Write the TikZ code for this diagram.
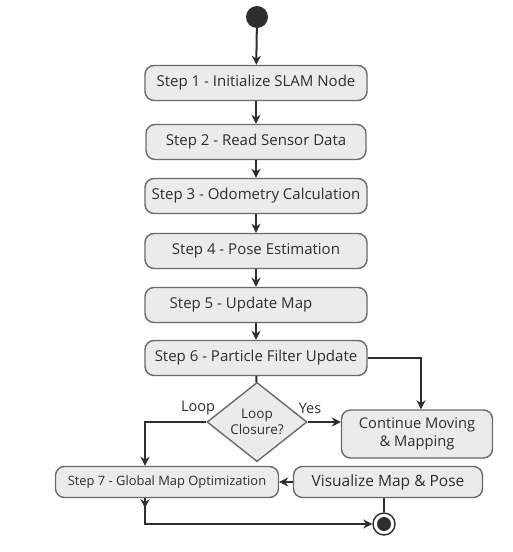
\documentclass[tikz,border=0pt]{standalone}
\usepackage{fontspec}
\setmainfont{Open Sans}
\usetikzlibrary{shapes.geometric,arrows.meta,positioning}
\definecolor{boxfill}{HTML}{EBEBEB}
\definecolor{boxline}{HTML}{6A6A6A}
\definecolor{ink}{HTML}{2E2E2E}
\begin{document}
\begin{tikzpicture}[x=1pt,y=-1pt,
  stepbox/.style={draw=boxline,fill=boxfill,line width=1.4pt,rounded corners=9pt,minimum height=35pt,inner sep=2pt,font=\fontsize{15}{18}\selectfont,text=ink},
  conn/.style={draw=ink,line width=2pt,-{Stealth[length=9pt,width=9pt]}},
  plain/.style={draw=ink,line width=2pt},
  lbl/.style={font=\fontsize{14.5}{17}\selectfont,text=ink}]
\useasboundingbox[fill=white] (0,0) rectangle (513,552);
\node[circle,fill=ink,minimum size=22pt,inner sep=0pt] (start) at (257,17) {};
\node[stepbox,minimum width=222pt] (s1) at (256,83) {Step 1 - Initialize SLAM Node};
\node[stepbox,minimum width=220pt] (s2) at (256,142) {Step 2 - Read Sensor Data};
\node[stepbox,minimum width=222pt] (s3) at (256,196) {Step 3 - Odometry Calculation};
\node[stepbox,minimum width=222pt] (s4) at (256,251) {Step 4 - Pose Estimation};
\node[stepbox,minimum width=222pt] (s5) at (256,305) {Step 5 - Update Map\hspace*{30pt}};
\node[stepbox,minimum width=222pt] (s6) at (256,358) {Step 6 - Particle Filter Update};
\node[diamond,draw=boxline,fill=boxfill,line width=1.4pt,minimum width=100pt,minimum height=67pt,inner sep=0pt,align=center,font=\fontsize{13.5}{16}\selectfont,text=ink] (dec) at (257,422) {Loop\\Closure?};
\node[stepbox,minimum width=151pt,minimum height=48pt,align=center,font=\fontsize{14.7}{18}\selectfont] (cont) at (417,434) {Continue Moving\\\& Mapping};
\node[stepbox,minimum width=223pt,minimum height=31pt,font=\fontsize{12.9}{15}\selectfont] (s7) at (167,482) {Step 7 - Global Map Optimization};
\node[stepbox,minimum width=189pt,minimum height=31pt,font=\fontsize{15.5}{18}\selectfont] (vis) at (388,482) {Visualize Map \& Pose};
\node[circle,draw=ink,line width=1.4pt,fill=white,minimum size=22pt,inner sep=0pt] (end) at (384,524) {};
\node[circle,fill=ink,minimum size=14pt,inner sep=0pt] at (end) {};
\coordinate (c6) at (421,358);
\coordinate (cl) at (145,422);
\coordinate (c7) at (145,524);
\node[lbl] (yes) at (310,408) {Yes};
\node[lbl] (loop) at (198,408) {Loop};
\draw[conn] (start) -- (s1);
\draw[conn] (s1) -- (s2);
\draw[conn] (s2) -- (s3);
\draw[conn] (s3) -- (s4);
\draw[conn] (s4) -- (s5);
\draw[conn] (s5) -- (s6);
\draw[plain] (s6) -- (dec);
\draw[conn] (s6.east) -- (c6) -- (cont.north -| c6);
\draw[conn] (dec.east) -- (cont.west |- dec.east);
\draw[conn] (dec.west) -- (cl) -- (s7.north -| cl);
\draw[conn] (vis) -- (s7);
\draw[conn] (s7.south -| c7) -- ++(0,10);
\draw[conn] (s7.south -| c7) -- (c7) -- (end);
\draw[plain] (vis.south -| end) -- (end);
\end{tikzpicture}
\end{document}
